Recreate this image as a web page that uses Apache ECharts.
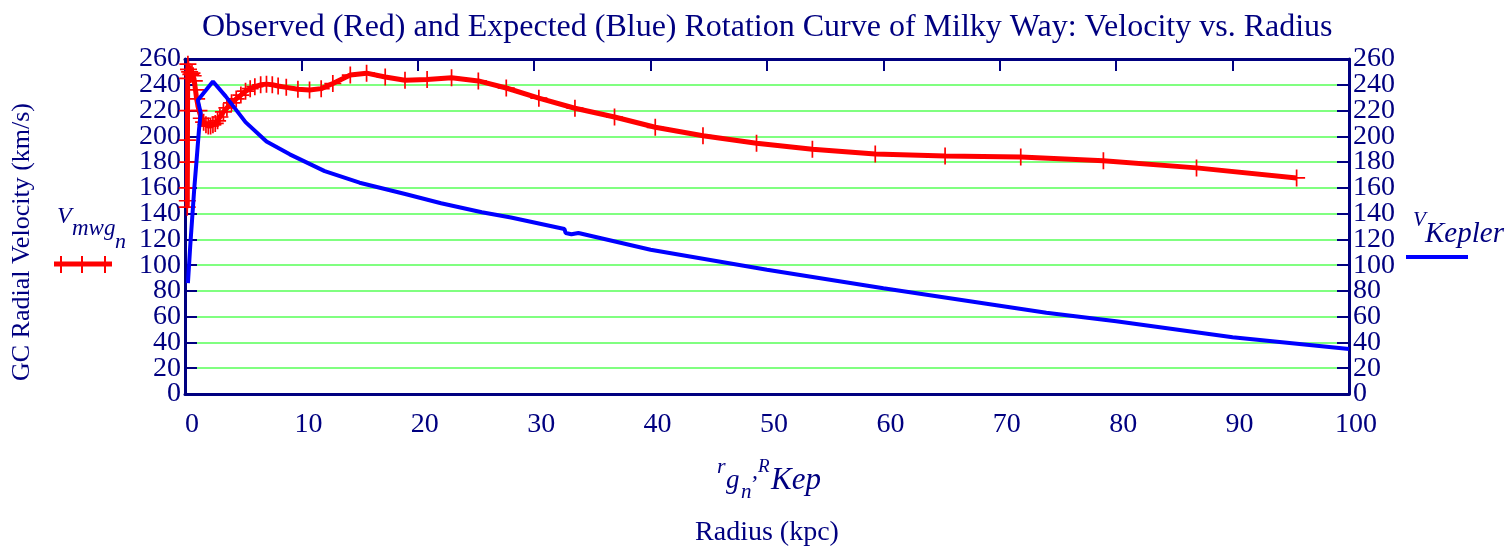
<!DOCTYPE html>
<html>
<head>
<meta charset="utf-8">
<script src="https://cdn.jsdelivr.net/npm/echarts@6/dist/echarts.min.js"></script>
<style>
html, body { margin: 0; padding: 0; background: #fff; }
#chart { width: 1508px; height: 548px; }
</style>
</head>
<body>
<div id="chart"></div>
<script>
// observed curve (red): radius in kpc, velocity in km/s
var obsR = [0.19, 0.2, 0.2, 0.21, 0.21, 0.22, 0.23, 0.25, 0.3, 0.4, 0.5, 0.6, 0.7, 0.8, 0.9, 1.0,
    1.2, 1.4, 1.6, 1.8, 2.0, 2.2, 2.4, 2.6, 2.8, 3.0, 3.3, 3.6, 4.0, 4.4, 4.8, 5.2, 5.6, 6.0,
    6.5, 7.0, 7.5, 8.0, 8.7, 9.7, 10.7, 11.7, 12.7, 14.2, 15.6, 17.2, 18.9, 20.8, 22.9, 25.2,
    27.6, 30.4, 33.5, 36.9, 40.4, 44.5, 49.1, 53.9, 59.3, 65.3, 71.8, 78.9, 86.9, 95.5];
var obsV = [145, 150, 160, 180, 197, 220, 245, 256, 252, 250, 248, 249, 247, 243, 236, 229,
    220, 214, 211, 209, 208, 208, 209, 210, 212, 215, 219, 222, 226, 229, 232, 235, 237, 238.5,
    240, 240.5, 240, 239, 238, 236.5, 236, 237, 241, 247.5, 249, 246, 243.5, 244, 245.5, 243,
    237.5, 229.6, 221.8, 215, 207, 200.5, 194.6, 190, 186.2, 184.7, 184, 181, 175.5, 167.7];

// expected keplerian curve (blue)
var kepR = [0.25, 0.45, 0.8, 1.0, 1.2, 1.35, 1.1, 2.4, 3.5, 5.2, 7.0, 9.0, 12, 15, 19, 22, 25.5,
    28, 32.6, 32.7, 33.2, 33.8, 40, 50, 60, 70, 74, 80, 90, 100];
var kepV = [86, 115, 160, 182, 205, 218, 228, 242.5, 231, 211, 196, 186, 173, 164, 155, 148, 141,
    137, 128, 125, 124, 125, 112, 96.5, 82, 68.5, 63, 56.5, 44, 35];

// axes
var xMin = 0, xMax = 100, xStep = 10;
var yMin = 0, yMax = 260, yStep = 20;

var NAVY = '#000080';
var FONT = 'Liberation Serif';
var PLUS = 'path://M-1,-10 H1 V10 H-1 Z M-10,-1 H10 V1 H-10 Z';

function pairs(xs, ys) {
    return xs.map(function (x, i) { return [x, ys[i]]; });
}

var chart = echarts.init(document.getElementById('chart'));

function xAxisCfg(pos) {
    return {
        type: 'value',
        position: pos,
        min: xMin,
        max: xMax,
        interval: xStep,
        z: 5,
        axisLine: { show: true, onZero: false, lineStyle: { color: NAVY, width: 3 } },
        axisTick: { show: pos === 'top', inside: true, length: 12, lineStyle: { color: NAVY, width: 2 } },
        axisLabel: { show: pos === 'bottom', color: NAVY, fontFamily: FONT, fontSize: 28, margin: 20,
                     lineHeight: 22, padding: [0, 0, 0, 14], showMinLabel: true, showMaxLabel: true },
        splitLine: { show: false }
    };
}

// frame side with ticks and inner labels (20 .. 240)
function yAxisCfg(pos) {
    return {
        type: 'value',
        position: pos,
        min: yMin,
        max: yMax,
        interval: yStep,
        z: 5,
        axisLine: { show: true, onZero: false, lineStyle: { color: NAVY, width: 3 } },
        axisTick: { show: true, inside: true, length: 12, lineStyle: { color: NAVY, width: 2 } },
        axisLabel: { color: NAVY, fontFamily: FONT, fontSize: 28, margin: 4, lineHeight: 20,
                     padding: [3, 0, 0, 0], showMinLabel: false, showMaxLabel: false },
        splitLine: { show: false }
    };
}

// only the end labels (0 and 260), so they are not dropped as overlapping
function yEndLabels(pos) {
    return {
        type: 'value',
        position: pos,
        min: yMin,
        max: yMax,
        interval: yStep,
        z: 5,
        axisLine: { show: false, onZero: false },
        axisTick: { show: false },
        axisLabel: {
            color: NAVY, fontFamily: FONT, fontSize: 28, margin: 4, lineHeight: 20,
            padding: [3, 0, 0, 0], showMinLabel: true, showMaxLabel: true,
            formatter: function (v) { return (v === yMin || v === yMax) ? String(v) : ''; }
        },
        splitLine: { show: false }
    };
}

var option = {
    animation: false,
    backgroundColor: '#fff',
    title: {
        text: 'Observed (Red) and Expected (Blue) Rotation Curve of Milky Way: Velocity vs. Radius',
        left: 197,
        top: 7,
        textStyle: { color: NAVY, fontFamily: FONT, fontSize: 32, fontWeight: 'normal' }
    },
    grid: { left: 185, right: 159, top: 59, bottom: 154 },
    xAxis: [xAxisCfg('bottom'), xAxisCfg('top')],
    yAxis: [yAxisCfg('left'), yAxisCfg('right'), {
        // green grid lines only
        type: 'value',
        position: 'left',
        min: yMin,
        max: yMax,
        interval: yStep,
        z: 0,
        axisLine: { show: false },
        axisTick: { show: false },
        axisLabel: { show: false },
        splitLine: { show: true, lineStyle: { color: '#80ff80', width: 2 } }
    }, yEndLabels('left'), yEndLabels('right')],
    graphic: [
        // y axis name
        { type: 'text', x: 22, y: 242, rotation: Math.PI / 2,
          style: { text: 'GC Radial Velocity (km/s)', fill: NAVY, font: '26px "Liberation Serif"',
                   align: 'center', verticalAlign: 'middle' } },
        // x axis name
        { type: 'text', x: 717, y: 467, style: { text: 'r', fill: NAVY, font: 'italic 22px "Liberation Serif"', verticalAlign: 'middle' } },
        { type: 'text', x: 726, y: 481, style: { text: 'g', fill: NAVY, font: 'italic 27px "Liberation Serif"', verticalAlign: 'middle' } },
        { type: 'text', x: 741, y: 492, style: { text: 'n', fill: NAVY, font: 'italic 21px "Liberation Serif"', verticalAlign: 'middle' } },
        { type: 'text', x: 752, y: 472, style: { text: ',', fill: NAVY, font: 'italic 24px "Liberation Serif"', verticalAlign: 'middle' } },
        { type: 'text', x: 758, y: 467, style: { text: 'R', fill: NAVY, font: 'italic 19px "Liberation Serif"', verticalAlign: 'middle' } },
        { type: 'text', x: 771, y: 481, style: { text: 'Kep', fill: NAVY, font: 'italic 31px "Liberation Serif"', verticalAlign: 'middle' } },
        { type: 'text', x: 767, y: 533, style: { text: 'Radius (kpc)', fill: NAVY, font: '28px "Liberation Serif"',
                   align: 'center', verticalAlign: 'middle' } },
        // left legend
        { type: 'text', x: 57, y: 217, style: { text: 'V', fill: NAVY, font: 'italic 24px "Liberation Serif"', verticalAlign: 'middle' } },
        { type: 'text', x: 72, y: 229, style: { text: 'mwg', fill: NAVY, font: 'italic 23px "Liberation Serif"', verticalAlign: 'middle' } },
        { type: 'text', x: 115, y: 242, style: { text: 'n', fill: NAVY, font: 'italic 22px "Liberation Serif"', verticalAlign: 'middle' } },
        { type: 'line', shape: { x1: 54, y1: 264, x2: 112, y2: 264 }, style: { stroke: '#ff0000', lineWidth: 5 } },
        { type: 'line', shape: { x1: 61, y1: 256, x2: 61, y2: 273 }, style: { stroke: '#ff0000', lineWidth: 2 } },
        { type: 'line', shape: { x1: 82, y1: 256, x2: 82, y2: 273 }, style: { stroke: '#ff0000', lineWidth: 2 } },
        { type: 'line', shape: { x1: 105, y1: 256, x2: 105, y2: 273 }, style: { stroke: '#ff0000', lineWidth: 2 } },
        // right legend
        { type: 'text', x: 1413, y: 220, style: { text: 'V', fill: NAVY, font: 'italic 21px "Liberation Serif"', verticalAlign: 'middle' } },
        { type: 'text', x: 1425, y: 234, style: { text: 'Kepler', fill: NAVY, font: 'italic 29px "Liberation Serif"', verticalAlign: 'middle' } },
        { type: 'line', shape: { x1: 1406, y1: 257, x2: 1468, y2: 257 }, style: { stroke: '#0000ff', lineWidth: 4 } }
    ],
    series: [{
        name: 'Vmwg',
        type: 'line',
        xAxisIndex: 0,
        yAxisIndex: 0,
        data: pairs(obsR, obsV),
        symbol: PLUS,
        symbolSize: 17,
        showAllSymbol: true,
        itemStyle: { color: '#ff0000' },
        lineStyle: { color: '#ff0000', width: 5 },
        z: 6
    }, {
        name: 'VKepler',
        type: 'line',
        xAxisIndex: 0,
        yAxisIndex: 0,
        data: pairs(kepR, kepV),
        symbol: 'none',
        lineStyle: { color: '#0000ff', width: 4 },
        z: 7
    }]
};
chart.setOption(option);
</script>
</body>
</html>
